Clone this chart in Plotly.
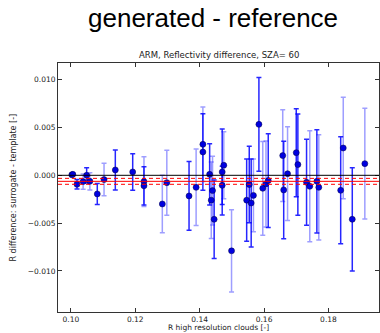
import plotly.graph_objects as go

# Data
x_vals = [0.1003, 0.1006, 0.1019, 0.1038, 0.1049, 0.1059, 0.1082, 0.1103, 0.1138, 0.1192,
          0.1227, 0.1227, 0.1284, 0.1298, 0.1367, 0.1389, 0.1410, 0.1410, 0.1431, 0.1436,
          0.1440, 0.1445, 0.1470, 0.1475, 0.1470, 0.1499, 0.1546, 0.1554, 0.1560, 0.1567,
          0.1584, 0.1596, 0.1606, 0.1613, 0.1658, 0.1661, 0.1673, 0.1700, 0.1705, 0.1732,
          0.1742, 0.1764, 0.1770, 0.1838, 0.1846, 0.1874, 0.1913]
y_vals = [0.00005, 0.0001, -0.00094, -0.00066, 0.0000, -0.00063, -0.00195, -0.00045, 0.00056, 0.00035,
          -0.00066, -0.0011, -0.0030, -0.00077, -0.00216, -0.00126, 0.00324, 0.00244, 0.0001, -0.0026,
          -0.0016, -0.0046, 0.00035, 0.00105, -0.00105, -0.0079, -0.0026, -0.00097, -0.0029, -0.0021,
          0.00533, -0.00136, -0.0009, -0.00055, 0.00206, -0.00153, 0.00017, 0.00237, 0.00112, -0.00073,
          -0.00115, -0.00063, -0.00126, -0.00157, 0.00286, -0.0046, 0.00122]
err_vals = [0.0001, 0.0001, 0.0005, 0.0008, 0.0008, 0.0009, 0.0011, 0.0017, 0.0021, 0.0019,
            0.0026, 0.0020, 0.0030, 0.0034, 0.0036, 0.0040, 0.0039, 0.0040, 0.0032, 0.0040,
            0.0036, 0.0041, 0.0045, 0.0035, 0.0020, 0.0043, 0.0043, 0.0040, 0.0046, 0.0038,
            0.0049, 0.0049, 0.0045, 0.0049, 0.0048, 0.0051, 0.0049, 0.0046, 0.0053, 0.0045,
            0.0058, 0.0054, 0.0055, 0.0056, 0.0053, 0.0054, 0.0058]
dark_flags = [1, 1, 1, 0, 1, 0, 1, 0, 1, 1,
              0, 1, 0, 0, 1, 0, 0, 1, 1, 0,
              0, 1, 1, 0, 1, 0, 1, 1, 1, 0,
              1, 0, 0, 1, 0, 1, 0, 1, 1, 1,
              0, 1, 0, 1, 0, 1, 0]
mean_diff = -0.00063
mean_band = 0.00031

x_ticks = [0.10, 0.12, 0.14, 0.16, 0.18]
y_ticks = [-0.010, -0.005, 0.0, 0.005, 0.010]

fig = go.Figure()

# zero line and mean lines
fig.add_hline(y=0, line=dict(color="black", width=1))
fig.add_hline(y=mean_diff, line=dict(color="red", width=1))
fig.add_hline(y=mean_diff + mean_band, line=dict(color="red", width=1, dash="4px,3px"))
fig.add_hline(y=mean_diff - mean_band, line=dict(color="red", width=1, dash="4px,3px"))

for flag, col in [(0, "rgba(40,40,255,0.45)"), (1, "rgba(0,0,255,0.85)")]:
    xs = [x for x, f in zip(x_vals, dark_flags) if f == flag]
    ys = [y for y, f in zip(y_vals, dark_flags) if f == flag]
    es = [e for e, f in zip(err_vals, dark_flags) if f == flag]
    fig.add_trace(go.Scatter(
        x=xs, y=ys, mode="markers",
        marker=dict(size=1, color="rgba(0,0,0,0)"),
        error_y=dict(type="data", array=es, visible=True, color=col,
                     thickness=1.5, width=2.5),
        showlegend=False, hoverinfo="skip"))

fig.add_trace(go.Scatter(
    x=x_vals, y=y_vals, mode="markers",
    marker=dict(size=6, color="#0000e0", line=dict(color="#000040", width=0.5)),
    showlegend=False))

axis_common = dict(showline=True, linecolor="#333333", linewidth=1, mirror="allticks",
                   ticks="inside", ticklen=4, tickcolor="#333333", showgrid=False,
                   zeroline=False,
                   tickfont=dict(family="DejaVu Sans", size=7.5, color="#222222"))

fig.update_xaxes(range=[0.096, 0.1957], tickvals=x_ticks,
                 ticktext=["%.2f" % v for v in x_ticks], **axis_common)
fig.update_yaxes(range=[-0.0143, 0.01175], tickvals=y_ticks,
                 ticktext=[("%.3f" % v).replace("-", "\u2212") if v != 0 else "0.000" for v in y_ticks],
                 **axis_common)

fig.update_layout(
    width=380, height=333,
    margin=dict(l=58, r=1, t=63, b=21),
    paper_bgcolor="white", plot_bgcolor="white",
    annotations=[
        dict(text="generated - reference", xref="paper", yref="paper",
             x=(213 - 58) / 321, y=1 + (63 - 18) / 249, xanchor="center", yanchor="middle",
             showarrow=False, font=dict(family="Liberation Sans", size=26, color="black")),
        dict(text="ARM, Reflectivity difference, SZA= 60", xref="paper", yref="paper",
             x=0.5, y=1 + (63 - 55) / 249, xanchor="center", yanchor="middle",
             showarrow=False, font=dict(family="DejaVu Sans", size=8.5, color="#222222")),
        dict(text="R high resolution clouds [-]", xref="paper", yref="paper",
             x=0.5, y=-(327.5 - 312) / 249, xanchor="center", yanchor="middle",
             showarrow=False, font=dict(family="DejaVu Sans", size=7.5, color="#222222")),
        dict(text="R difference: surrogate - template [-]", xref="paper", yref="paper",
             x=-(58 - 13) / 321, y=0.5, xanchor="center", yanchor="middle", textangle=-90,
             showarrow=False, font=dict(family="DejaVu Sans", size=8, color="#222222")),
    ],
)

fig.write_html("out.html")
